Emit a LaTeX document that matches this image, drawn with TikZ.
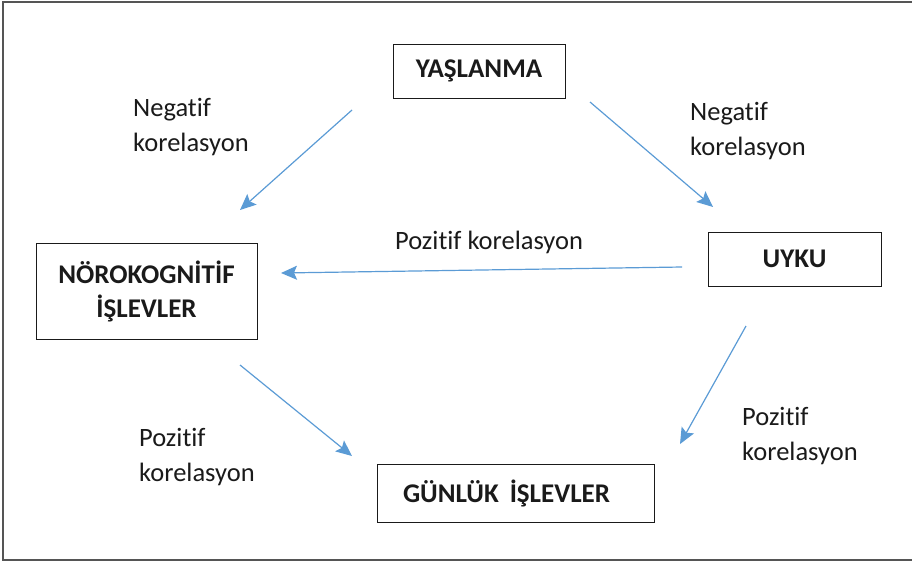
\documentclass[tikz,border=0pt]{standalone}
\usepackage{fontspec}
\setmainfont{Carlito}[Ligatures=NoCommon]
\usetikzlibrary{arrows.meta}
\definecolor{arrowblue}{RGB}{91, 155, 213}
\definecolor{textgray}{RGB}{26, 26, 26}
\definecolor{framegray}{RGB}{85, 85, 85}
\tikzstyle{box} = [rectangle, draw=textgray, line width=1pt,
                   text=textgray, font=\fontsize{27}{34}\selectfont\bfseries,
                   align=center, inner sep=0pt]
\tikzstyle{label} = [text=textgray, font=\fontsize{26.5}{35}\selectfont,
                     align=left, anchor=north west, inner sep=0pt]
\tikzstyle{arrow} = [arrowblue, line width=1.2pt,
                     -{Stealth[length=16pt, width=14pt, inset=3pt]}]

\begin{document}
\begin{tikzpicture}[x=1pt, y=-1pt]
        \useasboundingbox (0,0) rectangle (912,563);
        \draw [framegray, line width=1.5pt] (3,2) rectangle (930,560);

        \node (Yaslanma) [box, minimum width=172pt, minimum height=54pt] at (479,71) {YAŞLANMA};
        \node (Noro) [box, minimum width=221pt, minimum height=96pt] at (146.5,291) {NÖROKOGNİTİF\\İŞLEVLER};
        \node (Uyku) [box, minimum width=173pt, minimum height=54pt] at (794.5,259) {UYKU};
        \node (Gunluk) [box, minimum width=277pt, minimum height=58pt,
                        text width=225pt, align=left] at (515.5,493) {GÜNLÜK\hspace{2pt} İŞLEVLER};

        %Arrow ends
        \coordinate (YasL) at (352,110);
        \coordinate (NoroT) at (240,210);
        \coordinate (YasR) at (590,102);
        \coordinate (UykuT) at (713,207);
        \coordinate (UykuL) at (682,267);
        \coordinate (NoroR) at (281,273);
        \coordinate (UykuB) at (746,326);
        \coordinate (GunR) at (680,444);
        \coordinate (NoroB) at (240,365);
        \coordinate (GunL) at (352,456);

        %Arrows
        \draw [arrow] (YasL) -- (NoroT);
        \draw [arrow] (YasR) -- (UykuT);
        \draw [arrow] (UykuL) -- (NoroR);
        \draw [arrow] (UykuB) -- (GunR);
        \draw [arrow] (NoroB) -- (GunL);

        %Labels
        \node (NegL) [label] at (133,98) {Negatif\\korelasyon};
        \node (NegR) [label] at (690,102) {Negatif\\korelasyon};
        \node (PozM) [label] at (395,231) {Pozitif korelasyon};
        \node (PozL) [label] at (139,428) {Pozitif\\korelasyon};
        \node (PozR) [label] at (742,407) {Pozitif\\korelasyon};

    \end{tikzpicture}
\end{document}
